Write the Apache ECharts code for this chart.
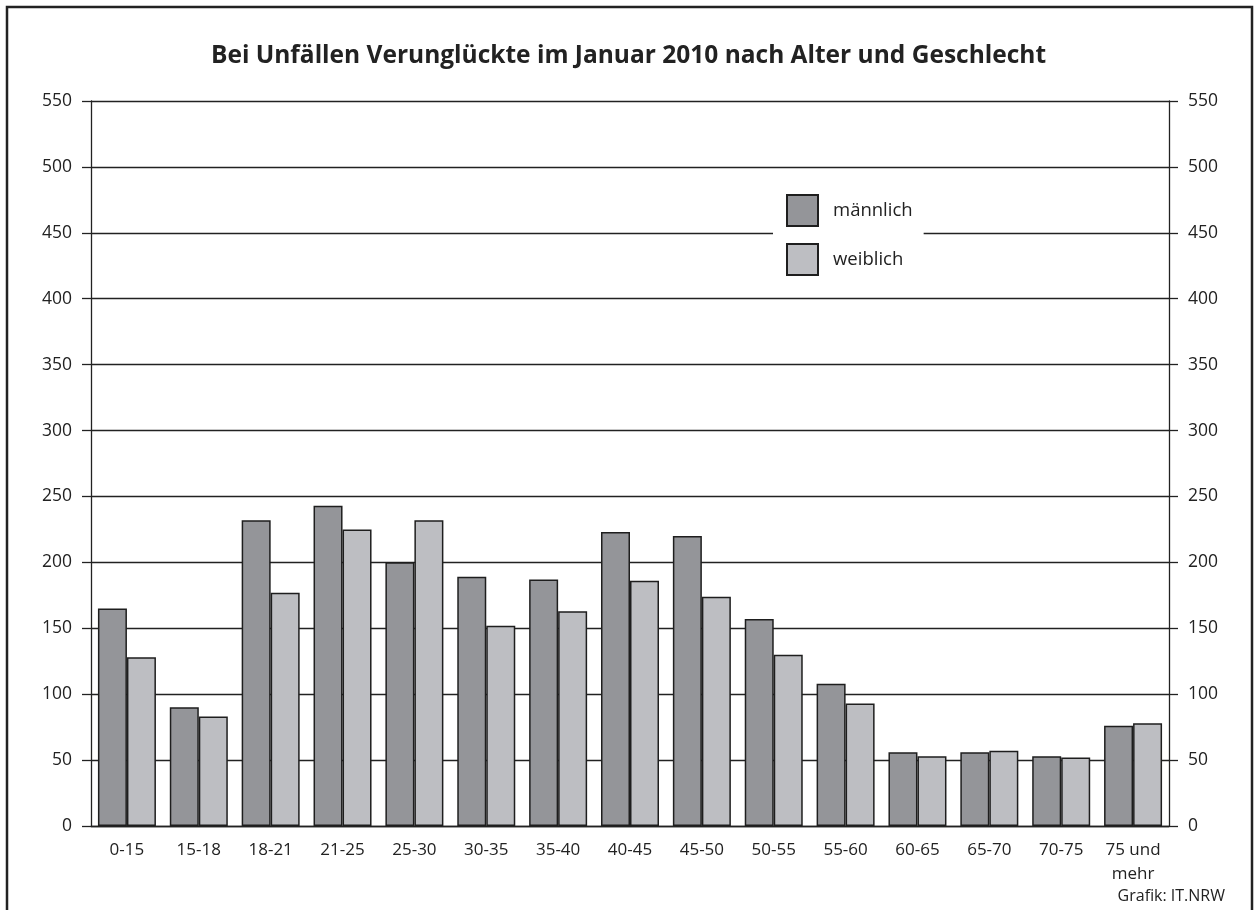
<!DOCTYPE html>
<html>
<head>
<meta charset="utf-8">
<script src="https://cdn.jsdelivr.net/npm/echarts@6/dist/echarts.min.js"></script>
<style>
  html, body { margin: 0; padding: 0; background: #fff; }
  #chart { width: 1257px; height: 910px; }
</style>
</head>
<body>
<div id="chart"></div>
<script>
var categories = ["0-15", "15-18", "18-21", "21-25", "25-30", "30-35", "35-40", "40-45", "45-50", "50-55", "55-60", "60-65", "65-70", "70-75", "75 und\nmehr"];
var maennlich = [165, 90, 232, 243, 200, 189, 187, 223, 220, 157, 108, 56, 56, 53, 76];
var weiblich = [128, 83, 177, 225, 232, 152, 163, 186, 174, 130, 93, 53, 57, 52, 78];

var chart = echarts.init(document.getElementById("chart"));
var ink = "#222222";
var font = "Open Sans";

var yAxisBase = {
  type: "value",
  min: 0,
  max: 550,
  interval: 50,
  axisLine: { show: true, lineStyle: { color: ink, width: 1.3 } },
  axisTick: { show: true, inside: false, length: 9, lineStyle: { color: ink, width: 1.3 } },
  axisLabel: { color: ink, fontSize: 17.5, fontFamily: font, margin: 19 },
};

var option = {
  backgroundColor: "#ffffff",
  animation: false,
  textStyle: { fontFamily: font },
  title: {
    text: "Bei Unfällen Verunglückte im Januar 2010 nach Alter und Geschlecht",
    left: "center",
    top: 39,
    textStyle: { color: ink, fontSize: 24.5, fontWeight: "bold", fontFamily: font },
  },
  legend: {
    orient: "vertical",
    left: 773,
    top: 190,
    padding: [4, 11, 4, 13],
    backgroundColor: "#ffffff",
    icon: "rect",
    itemWidth: 31,
    itemHeight: 31,
    itemGap: 16,
    textStyle: { color: ink, fontSize: 18.5, fontFamily: font, padding: [2, 0, 0, 10] },
    data: ["männlich", "weiblich"],
  },
  grid: {
    left: 91,
    right: 88,
    top: 101,
    bottom: 84,
  },
  xAxis: {
    type: "category",
    data: categories,
    axisLine: { show: true, lineStyle: { color: ink, width: 1.3 } },
    axisTick: { show: false },
    axisLabel: { color: ink, fontSize: 17, fontFamily: font, margin: 12, lineHeight: 24, interval: 0 },
  },
  yAxis: [
    Object.assign({}, yAxisBase, {
      position: "left",
      splitLine: { show: true, lineStyle: { color: ink, width: 1.3 } },
    }),
    Object.assign({}, yAxisBase, {
      position: "right",
      splitLine: { show: false },
    }),
  ],
  series: [
    {
      name: "männlich",
      type: "bar",
      data: maennlich,
      barWidth: 29,
      barGap: "0%",
      itemStyle: { color: "#949599", borderColor: "#1e1e1e", borderWidth: 1.5 },
    },
    {
      name: "weiblich",
      type: "bar",
      data: weiblich,
      barWidth: 29,
      itemStyle: { color: "#bdbec2", borderColor: "#1e1e1e", borderWidth: 1.5 },
    },
  ],
  graphic: [
    {
      type: "rect",
      shape: { x: 7, y: 7, width: 1245, height: 960 },
      style: { fill: "none", stroke: ink, lineWidth: 2.5 },
      silent: true,
    },
    {
      type: "text",
      right: 32,
      top: 888,
      style: { text: "Grafik: IT.NRW", fill: ink, fontSize: 16, fontFamily: font },
    },
  ],
};

option && chart.setOption(option);
</script>
</body>
</html>
